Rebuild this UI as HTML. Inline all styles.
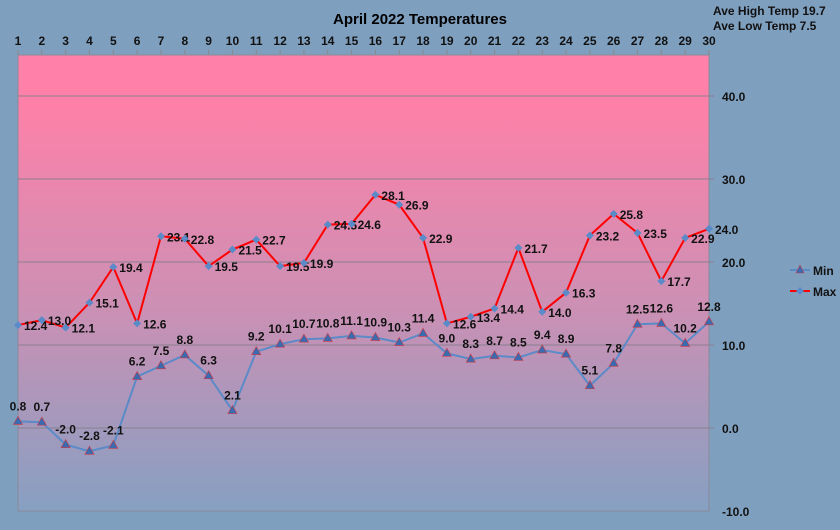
<!DOCTYPE html>
<html><head><meta charset="utf-8"><style>
body{margin:0;background:#7f9fbf;}
svg{display:block;font-family:"Liberation Sans",sans-serif;font-weight:bold;}
</style></head><body>
<svg width="840" height="530" viewBox="0 0 840 530">
<defs>
<linearGradient id="bg" x1="0" y1="0" x2="0" y2="1">
<stop offset="0" stop-color="#ff80a8"/>
<stop offset="0.1" stop-color="#ff80a8"/>
<stop offset="0.55" stop-color="#cc90b4"/>
<stop offset="1" stop-color="#86a0c2"/>
</linearGradient>
</defs>
<rect x="0" y="0" width="840" height="530" fill="#7f9fbf"/>
<rect x="18" y="55" width="691" height="456" fill="url(#bg)" stroke="#8a8a9a"/>
<text x="420" y="24" font-size="15" text-anchor="middle" fill="#000">April 2022 Temperatures</text>
<text x="713" y="15" font-size="12" fill="#111">Ave High Temp 19.7</text>
<text x="713" y="30" font-size="12" fill="#111">Ave Low Temp 7.5</text>
<g id="grid"></g><g id="xaxis"></g><g id="yaxis"></g>
<g id="series"></g>
<g>
<line x1="790" y1="270" x2="810" y2="270" stroke="#5a8ac8" stroke-width="2"/>
<polygon points="800,265 804,273 796,273" fill="#3a6ab0" stroke="#c04050" stroke-width="0.6"/>
<text x="813" y="275" font-size="12" fill="#111">Min</text>
<line x1="790" y1="291" x2="810" y2="291" stroke="#ff0000" stroke-width="2"/>
<polygon points="800,287 804,291 800,295 796,291" fill="#5a8ac8"/>
<text x="813" y="296" font-size="12" fill="#111">Max</text>
</g>
</svg>
<script>
const days=[1,2,3,4,5,6,7,8,9,10,11,12,13,14,15,16,17,18,19,20,21,22,23,24,25,26,27,28,29,30];
const maxTemps=[12.4,13.0,12.1,15.1,19.4,12.6,23.1,22.8,19.5,21.5,22.7,19.5,19.9,24.5,24.6,28.1,26.9,22.9,12.6,13.4,14.4,21.7,14.0,16.3,23.2,25.8,23.5,17.7,22.9,24.0];
const minTemps=[0.8,0.7,-2.0,-2.8,-2.1,6.2,7.5,8.8,6.3,2.1,9.2,10.1,10.7,10.8,11.1,10.9,10.3,11.4,9.0,8.3,8.7,8.5,9.4,8.9,5.1,7.8,12.5,12.6,10.2,12.8];
const yTicks=[-10,0,10,20,30,40];
const NS='http://www.w3.org/2000/svg';
const X=d=>18+(d-1)*(691/29);
const Y=v=>428-v*8.3;
function mk(t,a,p){const e=document.createElementNS(NS,t);for(const k in a)e.setAttribute(k,a[k]);p.appendChild(e);return e;}
const grid=document.getElementById('grid'),xa=document.getElementById('xaxis'),ya=document.getElementById('yaxis'),ser=document.getElementById('series');
yTicks.forEach(v=>{
 if(v>-10){const l=mk('line',{x1:18,x2:714,y1:Y(v),y2:Y(v),stroke:'#8c7f90','stroke-width':1},grid);
 
 }
 const t=mk('text',{x:722,y:Y(v)+5,'font-size':12,fill:'#111'},ya);t.textContent=v.toFixed(1);
 
 
});
days.forEach(d=>{
 mk('line',{x1:X(d),x2:X(d),y1:50,y2:55,stroke:'#888'},xa);
 const t=mk('text',{x:X(d),y:45,'font-size':12,'text-anchor':'middle',fill:'#111'},xa);t.textContent=d;
 
 
});
function line(vals,color,name){
 const p=mk('polyline',{points:vals.map((v,i)=>X(days[i])+','+Y(v)).join(' '),fill:'none',stroke:color,'stroke-width':2},ser);
 
 
}
line(minTemps,'#5a8ac8','min-line');
line(maxTemps,'#ff0000','max-line');
minTemps.forEach((v,i)=>{
 const x=X(days[i]),y=Y(v);
 const m=mk('polygon',{points:`${x},${y-5} ${x+4.5},${y+3} ${x-4.5},${y+3}`,fill:'#3a6ab0',stroke:'#c04050','stroke-width':0.7},ser);
 
 
 const t=mk('text',{x:x,y:y-11,'font-size':12,'text-anchor':'middle',fill:'#111'},ser);t.textContent=v.toFixed(1);
 
 
});
maxTemps.forEach((v,i)=>{
 const x=X(days[i]),y=Y(v);
 const m=mk('polygon',{points:`${x},${y-4} ${x+4},${y} ${x},${y+4} ${x-4},${y}`,fill:'#5a8ac8'},ser);
 
 
 const t=mk('text',{x:x+6,y:y+5,'font-size':12,fill:'#111'},ser);t.textContent=v.toFixed(1);
 
 
});
</script>
</body></html>
